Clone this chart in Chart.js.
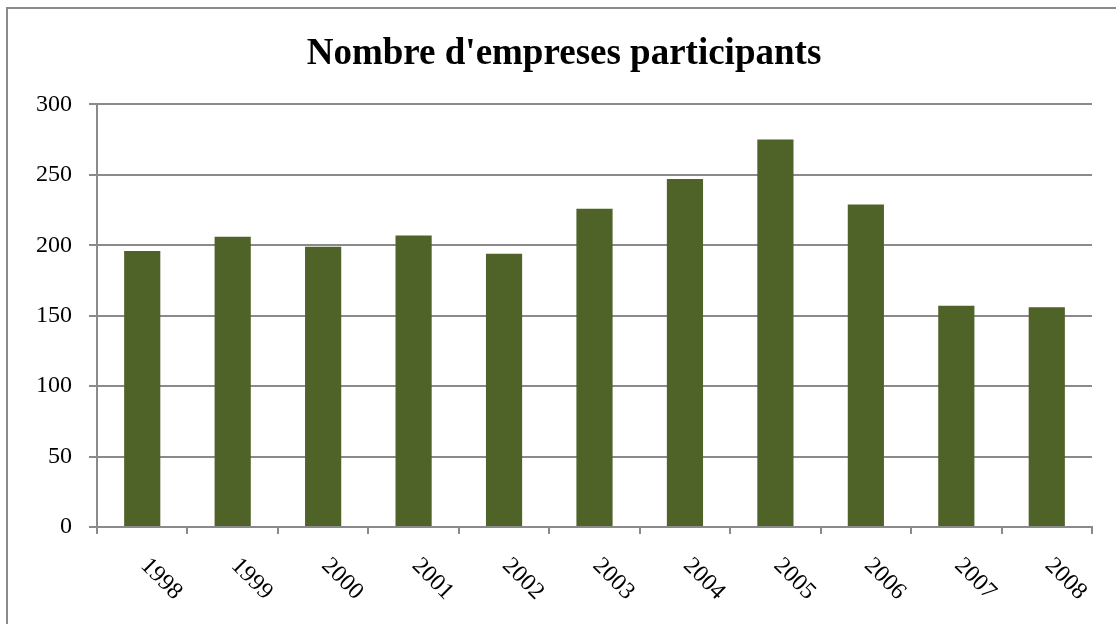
<!DOCTYPE html>
<html>
<head>
<meta charset="utf-8">
<script src="https://cdn.jsdelivr.net/npm/chart.js@4.4.0/dist/chart.umd.min.js"></script>
<style>
  html, body { margin: 0; padding: 0; background: #fff; overflow: hidden; }
  #wrap { position: relative; width: 1116px; height: 624px; }
  #frame { position: absolute; left: 6px; top: 7px; width: 1200px; height: 700px; border: 2px solid #8a8a8a; box-sizing: border-box; }
  canvas { position: absolute; left: 0; top: 0; }
</style>
</head>
<body>
<div id="wrap">
  <div id="frame"></div>
  <canvas id="myChart" width="1116" height="624"></canvas>
</div>
<script>
var years = ['1998', '1999', '2000', '2001', '2002', '2003', '2004', '2005', '2006', '2007', '2008'];
var companies = [196, 206, 199, 207, 194, 226, 247, 275, 229, 157, 156];
var yTicks = [0, 50, 100, 150, 200, 250, 300];

var serif = "'Liberation Serif', 'Times New Roman', 'DejaVu Serif', serif";
var gridGray = '#8a8a8a';

// x labels rotated clockwise, the way the original has them
var slantLabels = {
    id: 'slantLabels',
    afterDraw: function (chart) {
        var ctx = chart.ctx;
        var xs = chart.scales.x;
        ctx.save();
        ctx.font = '24px ' + serif;
        ctx.fillStyle = '#000';
        ctx.textAlign = 'left';
        ctx.textBaseline = 'middle';
        years.forEach(function (label, i) {
            var x = xs.getPixelForTick(i);
            ctx.save();
            ctx.translate(x + 2, xs.top + 35);
            ctx.rotate(Math.PI / 4);
            ctx.fillText(label, 0, 0);
            ctx.restore();
        });
        ctx.restore();
    }
};

var ctx = document.getElementById('myChart');
var myChart = new Chart(ctx, {
    type: 'bar',
    data: {
        labels: years,
        datasets: [{
            label: "Nombre d'empreses participants",
            data: companies,
            backgroundColor: '#4F6228',
            borderWidth: 0,
            barPercentage: 0.4,
            categoryPercentage: 1.0
        }]
    },
    options: {
        responsive: false,
        animation: false,
        devicePixelRatio: 1,
        layout: { padding: { left: 36, right: 24, top: 0, bottom: 0 } },
        plugins: {
            legend: { display: false },
            tooltip: { enabled: false },
            title: {
                display: true,
                text: "Nombre d'empreses participants",
                color: '#000',
                font: { family: serif, size: 37, weight: 'bold', lineHeight: 1.2 },
                padding: { top: 32, bottom: 28 }
            }
        },
        scales: {
            x: {
                offset: true,
                grid: { drawOnChartArea: false, drawTicks: true, tickLength: 7, color: gridGray, lineWidth: 2 },
                border: { color: gridGray, width: 2 },
                ticks: { display: false },
                afterFit: function (scale) { scale.height = 97; }
            },
            y: {
                min: 0,
                max: 300,
                afterBuildTicks: function (scale) {
                    scale.ticks = yTicks.map(function (v) { return { value: v }; });
                },
                grid: { color: gridGray, lineWidth: 2, tickLength: 8 },
                border: { color: gridGray, width: 2 },
                ticks: {
                    color: '#000',
                    padding: 17,
                    font: { family: serif, size: 24 }
                },
                afterFit: function (scale) { scale.width = 61; }
            }
        }
    },
    plugins: [slantLabels]
});
</script>
</body>
</html>
